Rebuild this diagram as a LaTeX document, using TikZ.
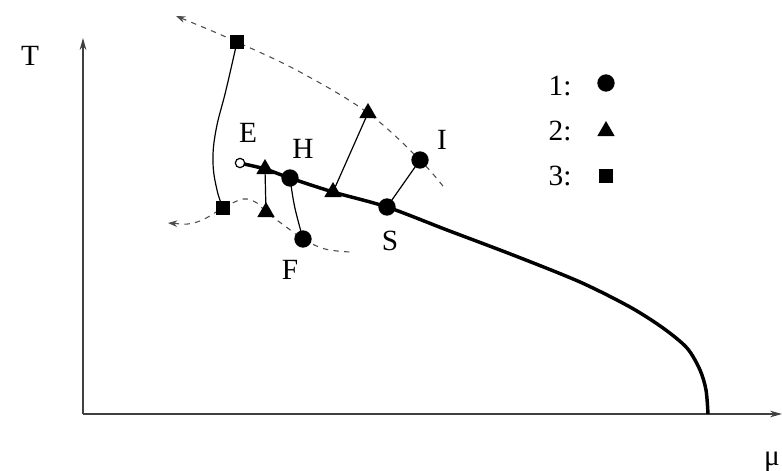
\documentclass[tikz,border=0pt]{standalone}
\usepackage{fontspec}
\setmainfont{Liberation Serif}
\usetikzlibrary{arrows.meta,shapes.geometric}
\begin{document}
\begin{tikzpicture}[x=0.75pt,y=-0.75pt,
  axis/.style={draw=black!75,line width=1.1pt},
  thick curve/.style={line width=2.6pt,line join=round},
  thin curve/.style={line width=0.9pt},
  dsh/.style={draw=black!70,line width=0.8pt,dash pattern=on 4pt off 4pt},
  circ/.style={circle,fill=black,inner sep=0pt,minimum size=13pt},
  ocirc/.style={circle,draw=black,fill=white,line width=0.9pt,inner sep=0pt,minimum size=7pt},
  tri/.style={regular polygon,regular polygon sides=3,fill=black,inner sep=0pt,minimum size=15pt},
  sq/.style={rectangle,fill=black,inner sep=0pt,minimum size=11pt},
  lbl/.style={font=\fontsize{22}{26}\selectfont,inner sep=0pt}
]
\useasboundingbox (0,0) rectangle (782,471);
% coordinates
\coordinate (O) at (83,414);
\coordinate (Ytop) at (83,38);
\coordinate (Xend) at (782,414);
\coordinate (pE) at (240,163);
\coordinate (pTa) at (265,169);
\coordinate (pH) at (290,178);
\coordinate (pTb) at (333,192);
\coordinate (pS) at (387,207);
\coordinate (pI) at (420,160);
\coordinate (pTc) at (368,113);
\coordinate (pQa) at (237,42);
\coordinate (pQb) at (223,208);
\coordinate (pTd) at (266,212);
\coordinate (pF) at (303,239);
\coordinate (arrA) at (176,16);
\coordinate (arrB) at (168,223);
\coordinate (endA) at (446,190);
\coordinate (endB) at (350,252);
\coordinate (pEnd) at (708,414);
% axes
\draw[axis,-{Stealth[length=9pt,width=5pt]}] (O) -- (Ytop);
\draw[axis,-{Stealth[length=9pt,width=5pt]}] (O) -- (Xend);
% dashed curves
\draw[dsh,{Stealth[length=7pt,width=5pt]}-] plot[smooth,tension=0.6] coordinates {(arrA) (pQa) (300,72) (pTc) (pI) (endA)};
\draw[dsh,{Stealth[length=7pt,width=5pt]}-] plot[smooth,tension=0.6] coordinates {(arrB) (197,222) (pQb) (243,199) (257,203) (pTd) (285,226) (pF) (325,249) (endB)};
% thin solid curves
\draw[thin curve] plot[smooth,tension=0.7] coordinates {(pQa) (226,90) (216,130) (213,162) (217,190) (pQb)};
\draw[thin curve] (pTa) -- (pTd);
\draw[thin curve] (pH) .. controls (294,206) .. (pF);
\draw[thin curve] (pTb) -- (pTc);
\draw[thin curve] (pS) -- (pI);
% phase boundary
\draw[thick curve] plot[smooth,tension=0.5] coordinates {(244,164) (pTa) (pH) (pTb) (pS) (447,230) (513,255) (580,282) (630,307) (663,328) (687,348) (700,370) (706,390) (pEnd)};
% markers
\node[ocirc] (E) at (pE) {};
\node[tri] (Ta) at (pTa) {};
\node[circ] (H) at (pH) {};
\node[tri] (Tb) at (pTb) {};
\node[circ] (S) at (pS) {};
\node[circ] (I) at (pI) {};
\node[tri] (Tc) at (pTc) {};
\node[sq] (Qa) at (pQa) {};
\node[sq] (Qb) at (pQb) {};
\node[tri] (Td) at (pTd) {};
\node[circ] (F) at (pF) {};
% labels
\node[lbl] (lT) at (30,56) {T};
\node[lbl] (lmu) at (772,462) {μ};
\node[lbl] (lE) at (248,133) {E};
\node[lbl] (lH) at (303,149) {H};
\node[lbl] (lI) at (442,140) {I};
\node[lbl] (lS) at (390,241) {S};
\node[lbl] (lF) at (290,270) {F};
% legend
\node[lbl] (l1) at (560,86) {1:};
\node[lbl] (l2) at (560,131) {2:};
\node[lbl] (l3) at (560,176) {3:};
\node[circ] (m1) at (606,83) {};
\node[tri] (m2) at (606,131) {};
\node[sq,minimum size=10pt] (m3) at (606,176) {};
\end{tikzpicture}
\end{document}
